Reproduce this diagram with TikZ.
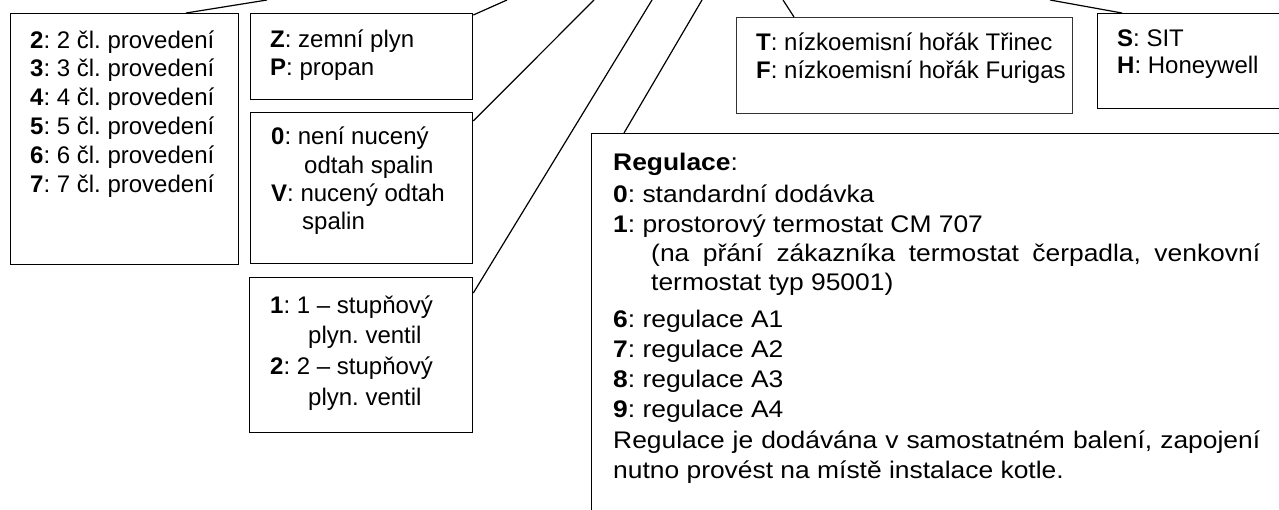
\documentclass[tikz,border=0pt]{standalone}
\usepackage{fontspec}
\setmainfont{Liberation Sans}
\newfontfamily\regfont{Liberation Sans}[FakeStretch=1.1]
\frenchspacing
\begin{document}
\begin{tikzpicture}[x=1pt,y=-1pt,
  box/.style={draw=black,line width=1.3pt,fill=white,inner sep=0pt,anchor=north west},
  conn/.style={draw=black,line width=1.2pt},
  txt/.style={anchor=base west,inner sep=0pt,font=\fontsize{24}{29}\selectfont},
  rtxt/.style={anchor=base west,inner sep=0pt,font=\regfont\fontsize{24}{29}\selectfont}]
\clip (0,0) rectangle (1279,509);
\fill[white] (0,0) rectangle (1279,509);
% connector free ends at the top edge
\coordinate (e1) at (267,0);
\coordinate (e2) at (507,0);
\coordinate (e3) at (594,0);
\coordinate (e4) at (652,0);
\coordinate (e5) at (783,0);
\coordinate (e6) at (1050,0);
\coordinate (e7) at (702,0);
% boxes
\node[box,minimum width=228pt,minimum height=251pt] (b1) at (10,13) {};
\node[box,minimum width=222pt,minimum height=86pt] (b2) at (250,13) {};
\node[box,minimum width=222pt,minimum height=151pt] (b3) at (250,112) {};
\node[box,minimum width=223pt,minimum height=155pt] (b4) at (249,277) {};
\node[box,draw=black!80,line width=1pt,minimum width=336pt,minimum height=96pt] (b5) at (736,17) {};
\node[box,minimum width=200pt,minimum height=95pt] (b6) at (1097,13) {};
\node[box,minimum width=720pt,minimum height=400pt] (b7) at (591,133) {};
% connectors
\draw[conn] ([xshift=176pt]b1.north west) -- (e1);
\draw[conn] ([yshift=-2pt]b2.north east) -- (e2);
\draw[conn] ([yshift=-9pt]b3.north east) -- (e3);
\draw[conn] ([yshift=-16pt]b4.north east) -- (e4);
\draw[conn] ([xshift=58pt]b5.north west) -- (e5);
\draw[conn] ([xshift=25pt]b6.north west) -- (e6);
\draw[conn] ([xshift=33pt]b7.north west) -- (e7);
% box 1
\node[txt] (t1a) at (30,48) {\textbf{2}: 2 čl. provedení};
\node[txt] (t1b) at (30,76.8) {\textbf{3}: 3 čl. provedení};
\node[txt] (t1c) at (30,105.6) {\textbf{4}: 4 čl. provedení};
\node[txt] (t1d) at (30,134.4) {\textbf{5}: 5 čl. provedení};
\node[txt] (t1e) at (30,163.2) {\textbf{6}: 6 čl. provedení};
\node[txt] (t1f) at (30,192) {\textbf{7}: 7 čl. provedení};
% box 2
\node[txt] (t2a) at (270,47) {\textbf{Z}: zemní plyn};
\node[txt] (t2b) at (270,75) {\textbf{P}: propan};
% box 3
\node[txt] (t3a) at (271,144) {\textbf{0}: není nucený};
\node[txt] (t3b) at (304,173) {odtah spalin};
\node[txt] (t3c) at (271,201) {\textbf{V}: nucený odtah};
\node[txt] (t3d) at (302,229) {spalin};
% box 4
\node[txt] (t4a) at (270,313) {\textbf{1}: 1 – stupňový};
\node[txt] (t4b) at (308,343) {plyn. ventil};
\node[txt] (t4c) at (270,374) {\textbf{2}: 2 – stupňový};
\node[txt] (t4d) at (308,405) {plyn. ventil};
% box 5
\node[txt] (t5a) at (756,50) {\textbf{T}: nízkoemisní hořák Třinec};
\node[txt] (t5b) at (756,78) {\textbf{F}: nízkoemisní hořák Furigas};
% box 6
\node[txt] (t6a) at (1117,46) {\textbf{S}: SIT};
\node[txt] (t6b) at (1117,73) {\textbf{H}: Honeywell};
% box 7
\node[rtxt] (t7a) at (613,170) {\textbf{Regulace}:};
\node[rtxt] (t7b) at (613,202) {\textbf{0}: standardní dodávka};
\node[rtxt] (t7c) at (613,232) {\textbf{1}: prostorový termostat CM 707};
\node[rtxt] (t7d) at (651,261) {\makebox[609pt][s]{(na přání zákazníka termostat čerpadla, venkovní}};
\node[rtxt] (t7e) at (651,290) {termostat typ 95001)};
\node[rtxt] (t7f) at (613,327) {\textbf{6}: regulace A1};
\node[rtxt] (t7g) at (613,357) {\textbf{7}: regulace A2};
\node[rtxt] (t7h) at (613,387) {\textbf{8}: regulace A3};
\node[rtxt] (t7i) at (613,417) {\textbf{9}: regulace A4};
\node[rtxt] (t7j) at (613,448) {\makebox[647pt][s]{Regulace je dodávána v samostatném balení, zapojení}};
\node[rtxt] (t7k) at (613,478) {nutno provést na místě instalace kotle.};
\end{tikzpicture}
\end{document}
